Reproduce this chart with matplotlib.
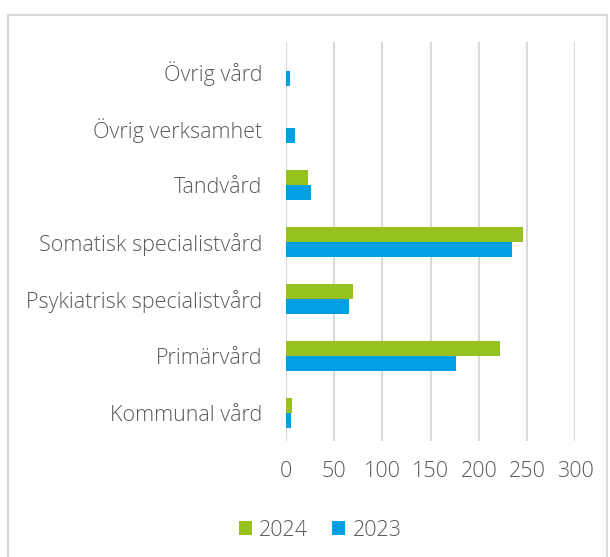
import matplotlib.pyplot as plt
from matplotlib.patches import Rectangle
import numpy as np

# Kategorier (nedifrån och upp)
categories = ['Kommunal vård', 'Primärvård', 'Psykiatrisk specialistvård',
              'Somatisk specialistvård', 'Tandvård', 'Övrig verksamhet', 'Övrig vård']
values_2024 = [6, 222, 69, 246, 23, 0.4, 0.4]
values_2023 = [5, 176, 65, 234, 26, 9, 4]
xticks = [0, 50, 100, 150, 200, 250, 300]

plt.rcParams['font.family'] = ['Open Sans', 'DejaVu Sans']
plt.rcParams['font.weight'] = 'light'
text_color = '#595959'
grid_color = '#d9d9d9'

fig = plt.figure(figsize=(6.1, 5.57), dpi=100)
ax = fig.add_axes([0.469, 0.2074, 0.474, 0.7163])

y = np.arange(len(categories))
h = 0.27
ax.barh(y + h / 2, values_2024, height=h, color='#97c11f', label='2024', zorder=3)
ax.barh(y - h / 2, values_2023, height=h, color='#009fe3', label='2023', zorder=3)

ax.set_xlim(0, 300)
ax.set_ylim(-0.5, len(categories) - 0.5)
ax.set_xticks(xticks)
ax.set_yticks(y)
ax.set_yticklabels(categories)
ax.tick_params(axis='both', length=0, labelsize=15.5, labelcolor=text_color)
ax.tick_params(axis='y', pad=17)
ax.tick_params(axis='x', pad=14)
ax.grid(axis='x', color=grid_color, linewidth=1.5, zorder=0)
for s in ax.spines.values():
    s.set_visible(False)

fig.legend(loc='center', bbox_to_anchor=(0.525, 0.048), ncol=2, frameon=False,
           fontsize=15.5, labelcolor=text_color, handlelength=0.6, handleheight=0.6,
           handletextpad=0.35, columnspacing=1.1)

# Ram runt diagrammet
fig.patches.append(Rectangle((8 / 610, -0.01), 599 / 610, 1 - 15 / 557 + 0.01,
                             transform=fig.transFigure, fill=False,
                             edgecolor=grid_color, linewidth=1.5))

fig.savefig('out.png', dpi=100)
